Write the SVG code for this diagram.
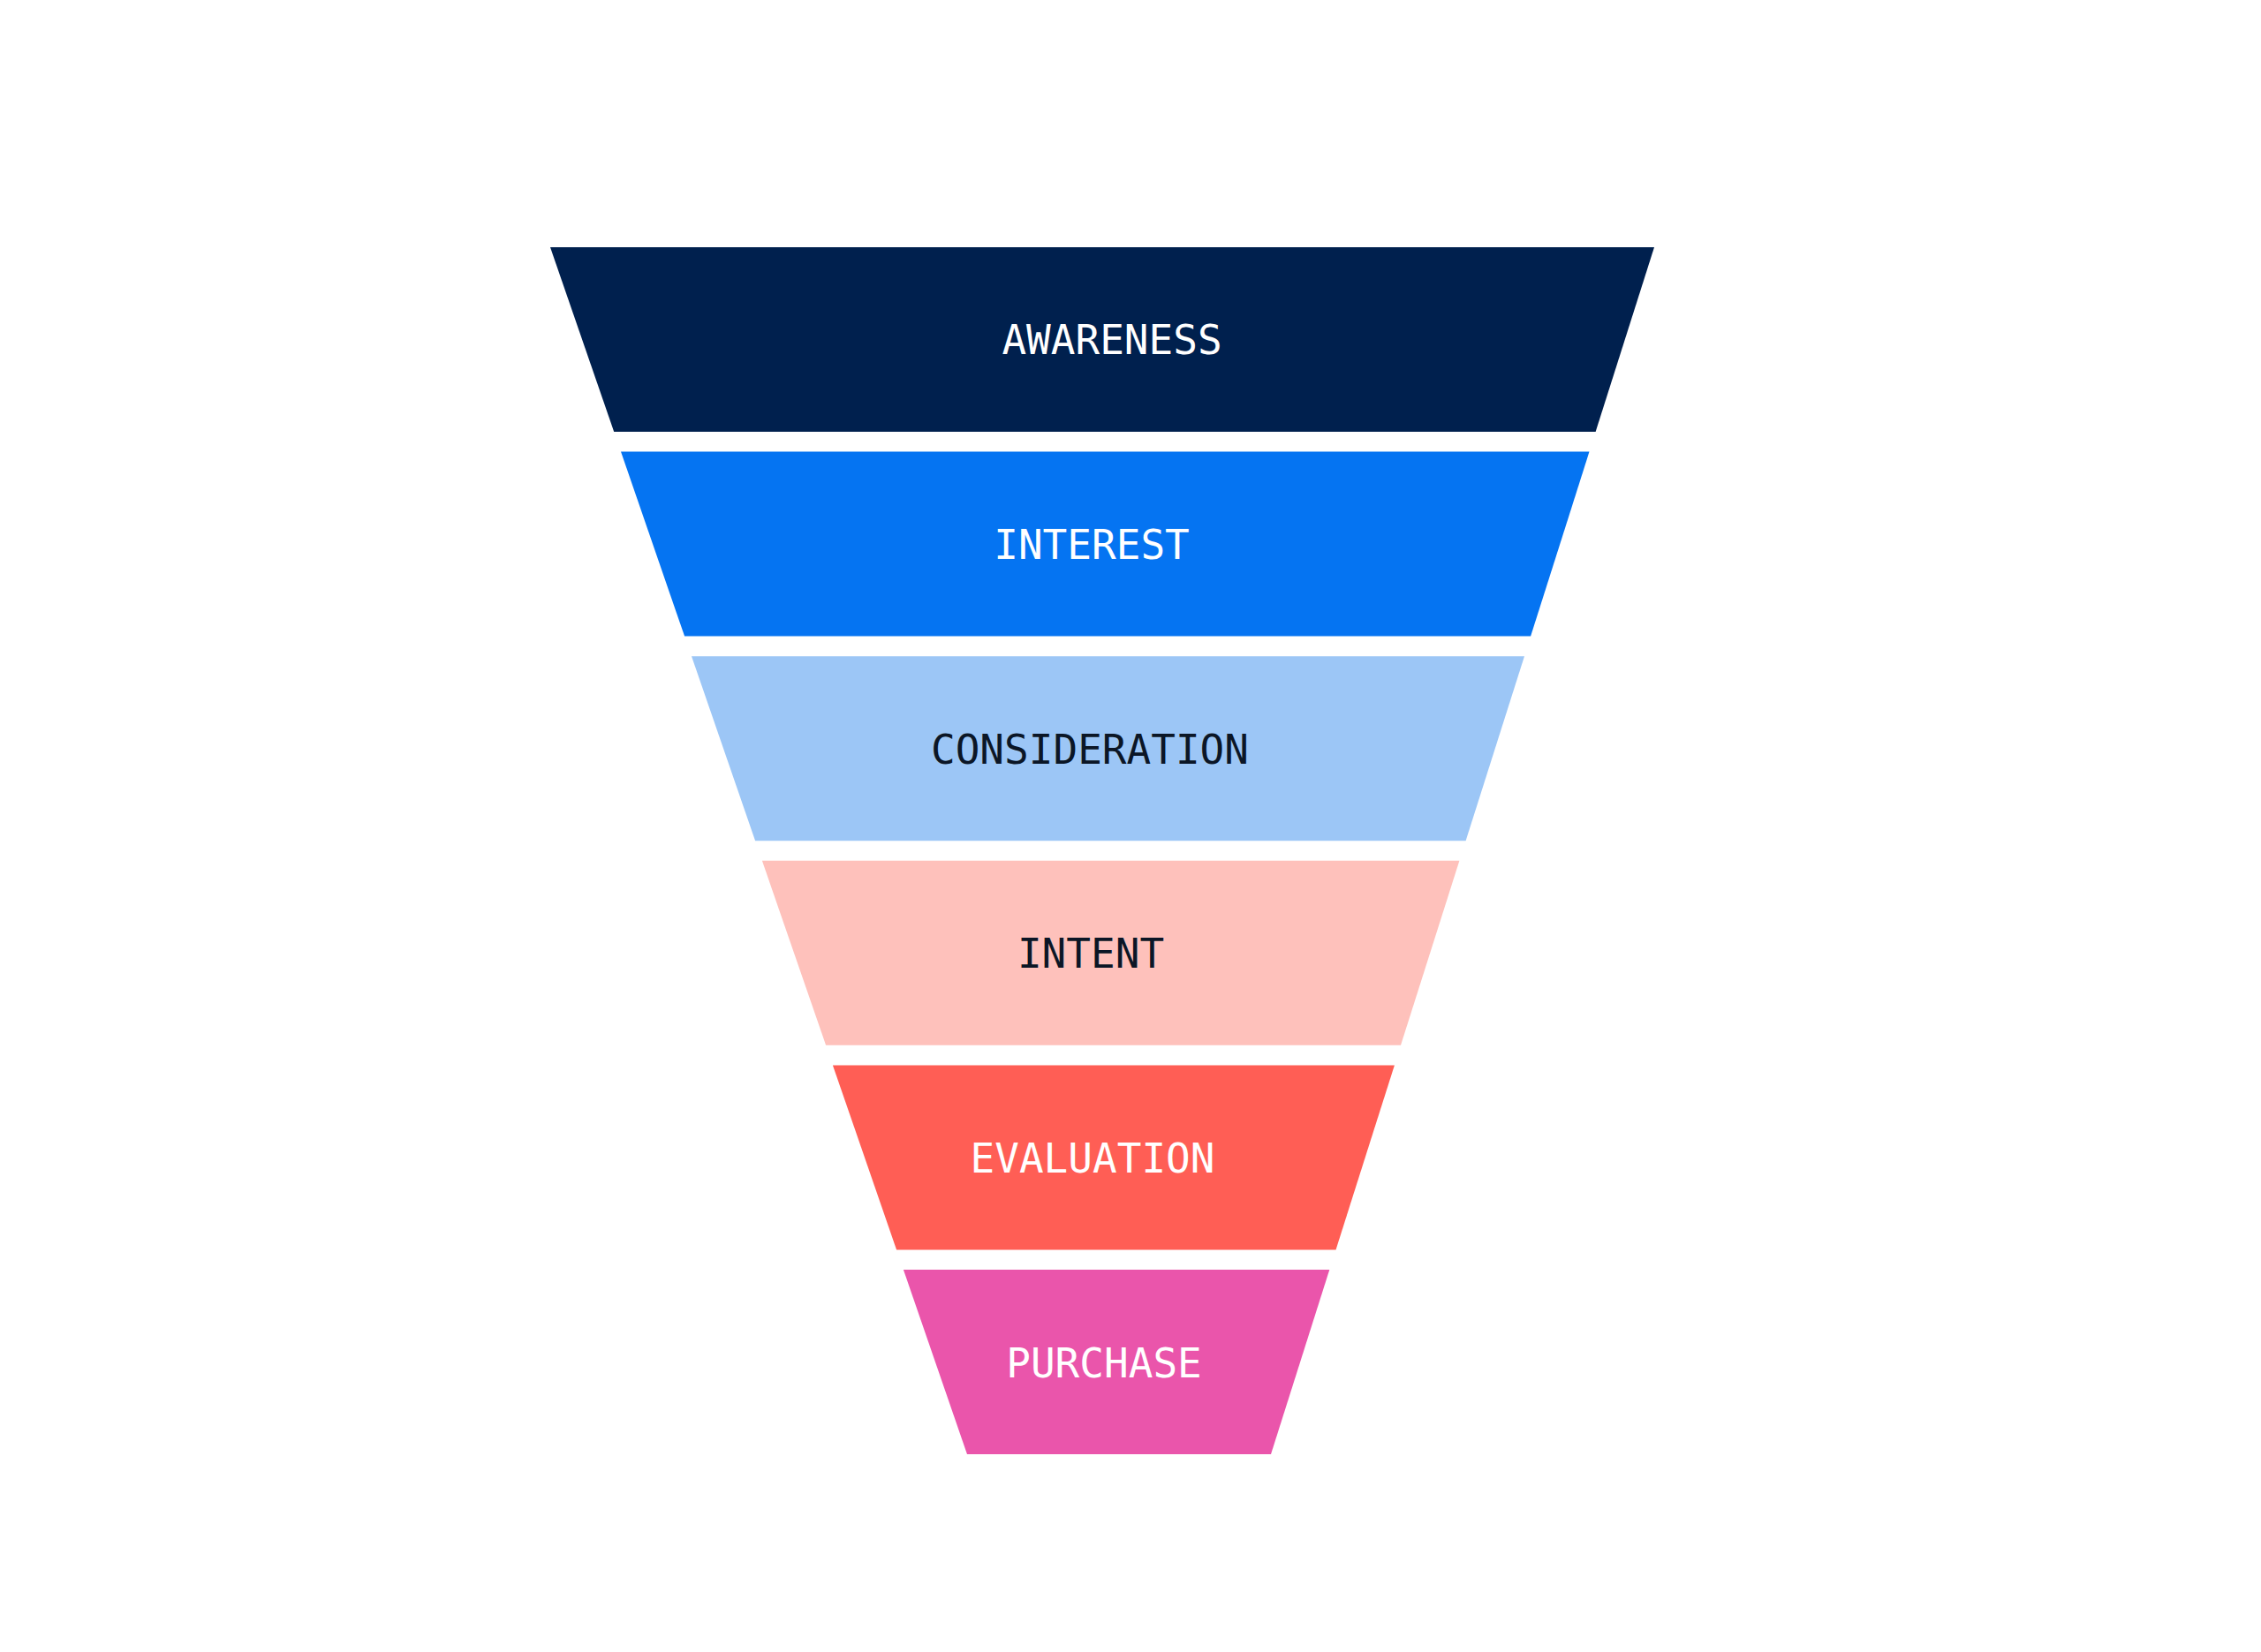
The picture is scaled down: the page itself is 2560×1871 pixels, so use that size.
<svg xmlns="http://www.w3.org/2000/svg" width="2560" height="1871" viewBox="0 0 2560 1871">
<style>
.lbl{font-family:"DejaVu Sans Mono","Liberation Mono",monospace;font-size:46px;text-anchor:middle}
.light{fill:#ffffff}
.dark{fill:#0b1626}
</style>
<rect width="2560" height="1871" fill="#ffffff"/>
<g id="awareness">
<polygon points="623,280 1873,280 1806.6,489 695.2,489" fill="#00204e"/>
<text class="lbl light" x="1259" y="401">AWARENESS</text>
</g>
<g id="interest">
<polygon points="703,511.6 1799.5,511.6 1733.1,720.6 775.1,720.6" fill="#0574f2"/>
<text class="lbl light" x="1236" y="633">INTEREST</text>
</g>
<g id="consideration">
<polygon points="783,743.2 1726,743.2 1659.6,952.2 855.1,952.2" fill="#9cc6f6"/>
<text class="lbl dark" x="1234" y="865">CONSIDERATION</text>
</g>
<g id="intent">
<polygon points="862.9,974.8 1652.4,974.8 1586,1183.8 935.1,1183.8" fill="#fec1bb"/>
<text class="lbl dark" x="1235" y="1096">INTENT</text>
</g>
<g id="evaluation">
<polygon points="942.9,1206.4 1578.9,1206.4 1512.5,1415.4 1015.1,1415.4" fill="#ff5e55"/>
<text class="lbl light" x="1237" y="1328">EVALUATION</text>
</g>
<g id="purchase">
<polygon points="1022.9,1438 1505.3,1438 1439,1647 1095,1647" fill="#ea55ab"/>
<text class="lbl light" x="1250" y="1560">PURCHASE</text>
</g>
<g id="connectors"/>
</svg>
